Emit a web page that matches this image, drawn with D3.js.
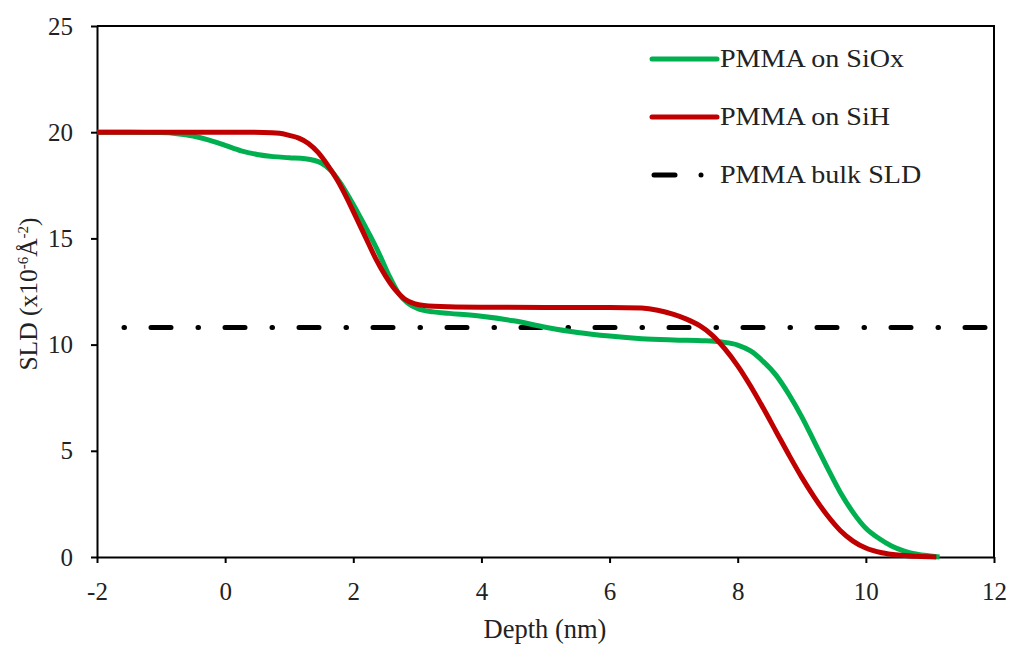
<!DOCTYPE html>
<html>
<head>
<meta charset="utf-8">
<script src="https://cdn.jsdelivr.net/npm/d3@7"></script>
<style>
  html, body { margin: 0; padding: 0; background: #fff; }
  svg { display: block; font-family: "Liberation Serif", "Times New Roman", serif; }
</style>
</head>
<body>
<svg id="chart" width="1017" height="646"></svg>
<script>
// SLD depth profiles of PMMA films
const depthSiOx = [-2, -1.5, -1, -0.75, -0.5, -0.25, 0, 0.25, 0.5, 0.75, 1.0, 1.25, 1.5, 1.65, 1.8, 1.95, 2.1, 2.25, 2.4, 2.55, 2.7, 2.85, 3.0, 3.25, 3.5, 4.0, 4.5, 5.0, 5.5, 6.0, 6.5, 7.0, 7.5, 7.75, 8.0, 8.2, 8.4, 8.6, 8.8, 9.0, 9.2, 9.4, 9.6, 9.8, 10.0, 10.2, 10.4, 10.6, 10.8, 11.0, 11.15];
const sldSiOx   = [20, 20, 19.98, 19.93, 19.82, 19.63, 19.38, 19.12, 18.95, 18.85, 18.8, 18.75, 18.55, 18.2, 17.6, 16.85, 16.05, 15.2, 14.3, 13.3, 12.45, 11.95, 11.7, 11.54, 11.47, 11.33, 11.12, 10.82, 10.57, 10.4, 10.28, 10.22, 10.18, 10.12, 9.98, 9.7, 9.2, 8.55, 7.65, 6.6, 5.4, 4.2, 3.05, 2.1, 1.35, 0.88, 0.52, 0.28, 0.13, 0.05, 0];

const depthSiH = [-2, -1, 0, 0.6, 0.85, 1.0, 1.15, 1.3, 1.45, 1.6, 1.75, 1.9, 2.05, 2.2, 2.35, 2.5, 2.65, 2.8, 2.95, 3.1, 3.5, 4.0, 5.0, 6.0, 6.5, 6.75, 7.0, 7.2, 7.4, 7.6, 7.8, 8.0, 8.2, 8.4, 8.6, 8.8, 9.0, 9.2, 9.4, 9.6, 9.8, 10.0, 10.25, 10.5, 10.8, 11.1];
const sldSiH   = [20, 20, 20, 19.99, 19.95, 19.85, 19.72, 19.47, 19.05, 18.45, 17.75, 16.9, 15.95, 15.0, 14.05, 13.25, 12.6, 12.15, 11.93, 11.84, 11.78, 11.76, 11.75, 11.75, 11.72, 11.62, 11.42, 11.2, 10.9, 10.45, 9.8, 9.0, 8.05, 7.0, 5.9, 4.8, 3.75, 2.8, 1.95, 1.25, 0.75, 0.42, 0.2, 0.09, 0.03, 0];

const bulkSLD = 10.8;

const xTicks = [-2, 0, 2, 4, 6, 8, 10, 12];
const yTicks = [0, 5, 10, 15, 20, 25];

const seriesNames = ["PMMA on SiOx", "PMMA on SiH", "PMMA bulk SLD"];
const seriesColors = ["#00B050", "#C00000", "#000000"];

const svg = d3.select("#chart");
const plot = { left: 97, right: 994, top: 26, bottom: 557 };

const x = d3.scaleLinear().domain([-2, 12]).range([plot.left, plot.right]);
const y = d3.scaleLinear().domain([0, 25]).range([plot.bottom, plot.top]);

// frame (top and right edges)
svg.append("path")
  .attr("d", `M${plot.left},${plot.top}H${plot.right}V${plot.bottom}`)
  .attr("fill", "none").attr("stroke", "#000").attr("stroke-width", 2);

// axes
const xAxis = svg.append("g")
  .attr("transform", `translate(0,${plot.bottom})`)
  .call(d3.axisBottom(x).tickValues(xTicks).tickSize(6).tickSizeOuter(0).tickPadding(19)
    .tickFormat(d3.format("d")));
const yAxis = svg.append("g")
  .attr("transform", `translate(${plot.left},0)`)
  .call(d3.axisLeft(y).tickValues(yTicks).tickSize(6).tickSizeOuter(0).tickPadding(18)
    .tickFormat(d3.format("d")));

[xAxis, yAxis].forEach(g => {
  g.select(".domain").attr("stroke", "#000").attr("stroke-width", 2);
  g.selectAll(".tick line").attr("stroke", "#000").attr("stroke-width", 2);
  g.selectAll(".tick text").attr("fill", "#222").style("font-size", "25px")
    .style("font-family", "'Liberation Serif', serif");
});
xAxis.selectAll(".tick text").text(d => d < 0 ? "-" + Math.abs(d) : d);

// axis titles
svg.append("text")
  .attr("x", 545).attr("y", 638)
  .attr("text-anchor", "middle").attr("fill", "#222")
  .style("font-size", "26.5px").text("Depth (nm)");

const yTitle = svg.append("text")
  .attr("transform", `translate(37,294) rotate(-90)`)
  .attr("text-anchor", "middle").attr("fill", "#222")
  .style("font-size", "25.5px");
yTitle.append("tspan").text("SLD (x10");
yTitle.append("tspan").attr("dy", -9).style("font-size", "15px").text("-6");
yTitle.append("tspan").attr("dy", 9).text("Å");
yTitle.append("tspan").attr("dy", -9).style("font-size", "15px").text("-2");
yTitle.append("tspan").attr("dy", 9).text(")");

// bulk SLD reference line
svg.append("line")
  .attr("x1", x(-2)).attr("x2", x(12))
  .attr("y1", y(bulkSLD)).attr("y2", y(bulkSLD))
  .attr("stroke", seriesColors[2]).attr("stroke-width", 5)
  .attr("stroke-linecap", "round")
  .attr("stroke-dasharray", "20,27,0.5,26.5")
  .attr("stroke-dashoffset", 20);

// profiles
const line = d3.line().x(d => x(d[0])).y(d => y(d[1])).curve(d3.curveMonotoneX);
const siox = depthSiOx.map((d, i) => [d, sldSiOx[i]]);
const sih = depthSiH.map((d, i) => [d, sldSiH[i]]);

svg.append("path").datum(siox).attr("d", line)
  .attr("fill", "none").attr("stroke", seriesColors[0]).attr("stroke-width", 5);
svg.append("path").datum(sih).attr("d", line)
  .attr("fill", "none").attr("stroke", seriesColors[1]).attr("stroke-width", 5);

// legend
const legendY = [59, 117, 175];
const lg = svg.append("g");
lg.append("line").attr("x1", 652).attr("x2", 717).attr("y1", legendY[0]).attr("y2", legendY[0])
  .attr("stroke", seriesColors[0]).attr("stroke-width", 5).attr("stroke-linecap", "round");
lg.append("line").attr("x1", 652).attr("x2", 717).attr("y1", legendY[1]).attr("y2", legendY[1])
  .attr("stroke", seriesColors[1]).attr("stroke-width", 5).attr("stroke-linecap", "round");
lg.append("line").attr("x1", 654).attr("x2", 675).attr("y1", legendY[2]).attr("y2", legendY[2])
  .attr("stroke", seriesColors[2]).attr("stroke-width", 5).attr("stroke-linecap", "round");
lg.append("circle").attr("cx", 701).attr("cy", legendY[2]).attr("r", 2.5).attr("fill", seriesColors[2]);

seriesNames.forEach((name, i) => {
  lg.append("text")
    .attr("transform", `translate(720,${legendY[i] + 8}) scale(1.08,1)`)
    .attr("fill", "#222").style("font-size", "26px").text(name);
});
</script>
</body>
</html>
